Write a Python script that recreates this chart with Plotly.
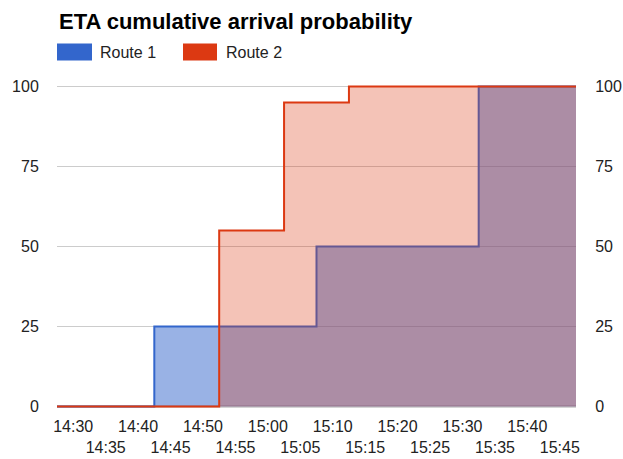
import plotly.graph_objects as go

# Arrival time slots (5-minute bins) and cumulative arrival probability (%)
times = ["14:30", "14:35", "14:40", "14:45", "14:50", "14:55", "15:00", "15:05",
         "15:10", "15:15", "15:20", "15:25", "15:30", "15:35", "15:40", "15:45"]
route1 = [0, 0, 0, 25, 25, 25, 25, 25, 50, 50, 50, 50, 50, 100, 100, 100]
route2 = [0, 0, 0, 0, 0, 55, 55, 95, 95, 100, 100, 100, 100, 100, 100, 100]
series_names = ["Route 1", "Route 2"]
y_ticks = [0, 25, 50, 75, 100]

BLUE = "#3366cc"
RED = "#dc3912"
FONT = "Liberation Sans, Arial, sans-serif"
TXT = "#222222"

n = len(times)
# each slot occupies one unit band; steps change at band edges
edges = list(range(n + 1))


def stepped(vals):
    return vals + [vals[-1]]


fig = go.Figure()
fig.add_trace(go.Scatter(
    x=edges, y=stepped(route1), mode="lines", line=dict(color=BLUE, width=2, shape="hv"),
    fill="tozeroy", fillcolor="rgba(51,102,204,0.5)", name=series_names[0],
    showlegend=False, hoverinfo="skip"))
fig.add_trace(go.Scatter(
    x=edges, y=stepped(route2), mode="lines", line=dict(color=RED, width=2, shape="hv"),
    fill="tozeroy", fillcolor="rgba(220,57,18,0.3)", name=series_names[1],
    showlegend=False, hoverinfo="skip"))
# carrier trace for the right-hand value axis
fig.add_trace(go.Scatter(
    x=edges, y=stepped(route1), yaxis="y2", mode="lines", line=dict(width=0),
    opacity=0, showlegend=False, hoverinfo="skip"))

tick_pos = [i + 0.5 for i in range(n)]
tick_txt = [t if i % 2 == 0 else "<br>" + t for i, t in enumerate(times)]

yr = [-0.5, 100.5]
W, H = 623, 459
left, right = 57, 576
top_px, bot_px = 87, 406
ppu = (bot_px - top_px) / 100.0
m_t = top_px - (yr[1] - 100) * ppu
m_b = H - (bot_px + (0 - yr[0]) * ppu)
plot_h = H - m_t - m_b


def px_x(px):
    return (px - left) / (right - left)


def px_y(py):
    return (H - m_b - py) / plot_h


fig.update_layout(
    width=W, height=H,
    margin=dict(l=left, r=W - right, t=m_t, b=m_b, pad=0),
    paper_bgcolor="white", plot_bgcolor="white",
    font=dict(family=FONT, size=16, color=TXT),
    xaxis=dict(range=[0, n], tickmode="array", tickvals=tick_pos, ticktext=tick_txt,
               tickangle=0, showgrid=False, zeroline=False, showline=False,
               ticks="outside", ticklen=4, tickcolor="rgba(0,0,0,0)", automargin=False,
               tickfont=dict(size=16, color=TXT, family=FONT), fixedrange=True),
    yaxis=dict(range=yr, tickmode="array", tickvals=y_ticks, showgrid=True,
               gridcolor="#cccccc", gridwidth=1, zeroline=False, showline=False,
               ticks="outside", ticklen=14, tickcolor="rgba(0,0,0,0)", automargin=False,
               tickfont=dict(size=16, color=TXT, family=FONT), fixedrange=True),
    yaxis2=dict(range=yr, overlaying="y", side="right", tickmode="array",
                tickvals=y_ticks, showgrid=False, zeroline=False, showline=False,
                ticks="outside", ticklen=15, tickcolor="rgba(0,0,0,0)", automargin=False,
                tickfont=dict(size=16, color=TXT, family=FONT), fixedrange=True),
    showlegend=False,
)

# baseline at zero
fig.add_shape(type="line", xref="x", yref="y", x0=0, x1=n, y0=0, y1=0,
              line=dict(color="#555555", width=1.5), layer="below")

# title
fig.add_annotation(text="<b>ETA cumulative arrival probability</b>", xref="paper", yref="paper",
                   x=px_x(57), xanchor="left", y=px_y(22), yanchor="middle",
                   showarrow=False, font=dict(size=22, color="#000000", family=FONT))

# legend swatches and labels
legend_items = [(57, 92, 98), (183, 217, 224)]
for (x0, x1, tx), name, col in zip(legend_items, series_names, [BLUE, RED]):
    fig.add_shape(type="rect", xref="paper", yref="paper",
                  x0=px_x(x0), x1=px_x(x1), y0=px_y(61), y1=px_y(44),
                  fillcolor=col, line=dict(width=0))
    fig.add_annotation(text=name, xref="paper", yref="paper",
                       x=px_x(tx), xanchor="left", y=px_y(53), yanchor="middle",
                       showarrow=False, font=dict(size=16, color=TXT, family=FONT))

fig.write_html("out.html")
